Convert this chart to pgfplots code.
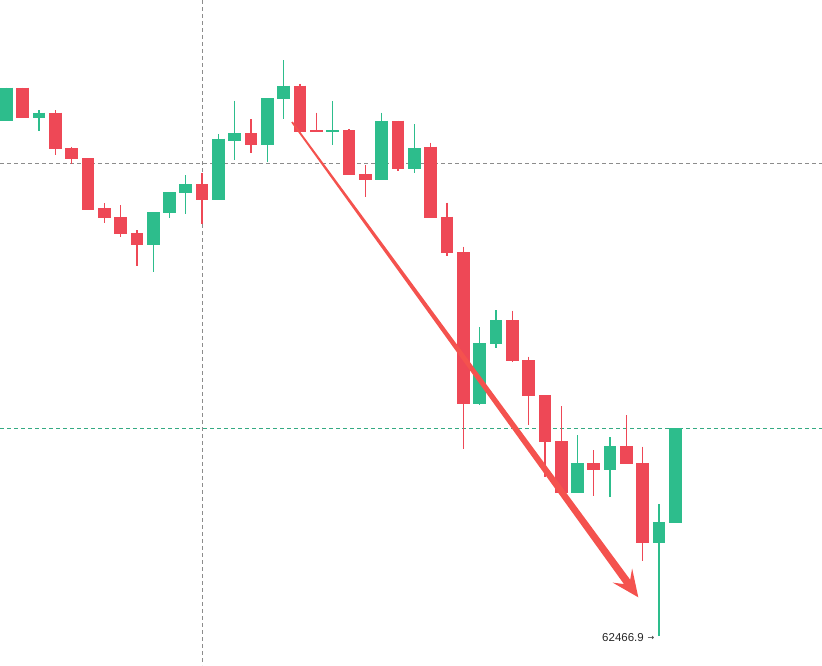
\documentclass[border=0pt]{standalone}
\usepackage{pgfplots}
\pgfplotsset{compat=1.18}
\usepackage{pgfplotstable}
\usepackage{fontspec}
\setmainfont{Liberation Sans}
\newfontfamily\dejavu{DejaVu Sans}
\definecolor{upgreen}{RGB}{45,189,140}
\definecolor{downred}{RGB}{238,72,86}
\definecolor{arrowred}{RGB}{244,82,78}
\definecolor{gridgray}{RGB}{140,140,140}
\definecolor{linegreen}{RGB}{52,170,130}

% x = horizontal position, o/h/l/c = vertical position (downward)
\pgfplotstableread{
x     o      h      l      c
6.3   120.7  87.7   120.7  87.7
38.9  117.7  110.0  130.7  112.7
153.2 244.7  212.0  271.7  212.0
169.5 213.0  192.0  218.3  192.0
185.8 192.7  175.0  214.0  184.0
218.5 199.7  134.3  199.7  138.7
234.8 140.7  100.7  160.0  133.0
267.4 144.7  98.0   161.7  98.0
283.7 98.7   60.0   119.0  85.7
332.7 131.7  101.0  145.0  130.0
381.7 179.7  112.7  179.7  120.7
414.3 169.0  124.0  172.7  148.0
479.6 403.7  327.0  405.0  343.0
495.9 343.7  310.0  347.7  320.0
577.5 492.7  435.0  492.7  463.0
610.1 470.3  437.3  497.3  446.0
659.1 542.7  504.0  636.0  522.0
675.4 522.7  428.3  522.7  428.3
}\up

\pgfplotstableread{
x     o      h      l      c
22.6  87.7   87.7   117.7  117.7
55.3  112.7  110.0  155.0  148.7
71.6  148.0  146.7  164.3  158.7
87.9  158.0  158.0  209.7  209.7
104.2 208.0  203.3  223.3  217.7
120.5 217.0  205.0  236.7  233.7
136.9 233.0  230.0  265.7  244.7
202.1 184.0  172.7  224.3  199.7
251.1 133.0  119.0  152.7  144.7
300.1 85.7   83.7   131.7  131.7
316.4 130.0  112.7  131.7  131.7
349.0 130.0  129.0  174.7  174.7
365.3 174.0  165.0  197.3  179.7
398.0 120.7  120.7  170.7  169.0
430.6 146.7  142.7  218.3  218.3
446.9 216.7  202.7  256.0  252.7
463.3 252.0  246.7  449.0  403.7
512.2 320.0  310.7  362.0  360.7
528.5 360.0  356.7  425.0  395.7
544.9 395.0  395.0  476.7  441.7
561.2 441.0  406.0  492.7  492.7
593.8 463.0  450.0  496.0  470.3
626.5 446.0  415.0  463.7  463.7
642.8 463.0  446.7  560.7  542.7
}\down

\begin{document}
\begin{tikzpicture}
\begin{axis}[
  scale only axis, width=822pt, height=665pt,
  xmin=0, xmax=822, ymin=0, ymax=665, y dir=reverse,
  hide axis, clip=true,
]
\path (rel axis cs:0,0) rectangle (rel axis cs:1,1);
% reference lines
\addplot[gridgray, line width=0.9pt, dash pattern=on 4pt off 3pt] coordinates {(0,163) (822,163)};
\addplot[gridgray, line width=0.9pt, dash pattern=on 4pt off 3pt] coordinates {(202,0) (202,665)};
\addplot[linegreen, line width=0.9pt, dash pattern=on 4pt off 3pt] coordinates {(0,428) (822,428)};

% wicks
\addplot[draw=none, mark=none, error bars/.cd, y dir=plus, y explicit, error mark=none,
  error bar style={line width=1.3pt, draw=upgreen}]
  table[x=x, y=h, y error expr=\thisrow{l}-\thisrow{h}] {\up};
\addplot[draw=none, mark=none, error bars/.cd, y dir=plus, y explicit, error mark=none,
  error bar style={line width=1.3pt, draw=downred}]
  table[x=x, y=h, y error expr=\thisrow{l}-\thisrow{h}] {\down};
% bodies
\addplot[draw=none, mark=none, error bars/.cd, y dir=plus, y explicit, error mark=none,
  error bar style={line width=12.7pt, draw=upgreen}]
  table[x=x, y expr={min(\thisrow{o},\thisrow{c})}, y error expr={abs(\thisrow{o}-\thisrow{c})}] {\up};
\addplot[draw=none, mark=none, error bars/.cd, y dir=plus, y explicit, error mark=none,
  error bar style={line width=12.7pt, draw=downred}]
  table[x=x, y expr={min(\thisrow{o},\thisrow{c})}, y error expr={abs(\thisrow{o}-\thisrow{c})}] {\down};

% trend arrow
\addplot[fill=arrowred, draw=none] coordinates {
 (292.7,121.5) (630.2,579.7) (632.1,568.4) (638.3,597.3) (612.7,582.6) (624.0,584.1) (291.3,122.5)} -- cycle;

\node[anchor=base east, inner sep=0pt, text=black!85, font=\fontsize{11.5}{13}\selectfont]
  at (axis cs:644,641.7) {62466.9};
\node[anchor=west, inner sep=0pt, text=black!85, font=\dejavu\fontsize{8}{8}\selectfont]
  at (axis cs:647.5,638.5) {→};
\end{axis}
\end{tikzpicture}
\end{document}
